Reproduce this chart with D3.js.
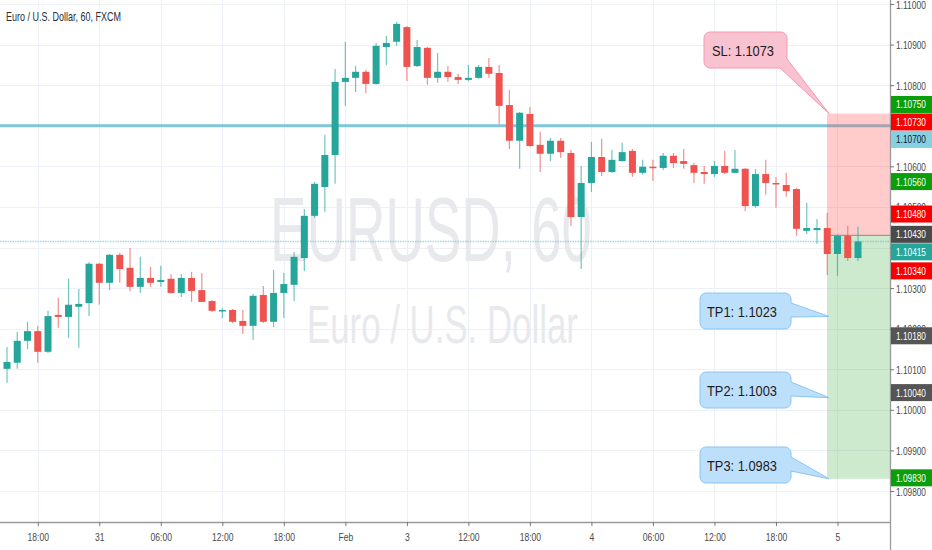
<!DOCTYPE html>
<html><head><meta charset="utf-8">
<script src="https://cdn.jsdelivr.net/npm/d3@7"></script>
<style>
html,body{margin:0;padding:0;background:#fff;}
svg{display:block;}
</style></head><body>
<svg id="chart" width="932" height="550"></svg>
<script>
// ---------- DATA ----------
const opens  = [1.10101,1.10116,1.10170,1.10194,1.10143,1.10234,1.10229,1.10254,1.10263,1.10360,
                1.10313,1.10382,1.10350,1.10303,1.10325,1.10315,1.10323,1.10288,1.10325,1.10295,
                1.10268,1.10244,1.10246,1.10219,1.10207,1.10283,1.10217,1.10288,1.10308,1.10374,
                1.10478,1.10549,1.10628,1.10808,1.10818,1.10833,1.10803,1.10894,1.10907,1.10943,
                1.10847,1.10892,1.10818,1.10833,1.10820,1.10813,1.10818,1.10845,1.10830,1.10751,
                1.10663,1.10729,1.10653,1.10631,1.10663,1.10633,1.10475,1.10559,1.10623,1.10586,
                1.10613,1.10638,1.10584,1.10599,1.10596,1.10626,1.10613,1.10603,1.10586,1.10581,
                1.10601,1.10584,1.10594,1.10502,1.10581,1.10559,1.10554,1.10544,1.10441,1.10443,
                1.10448,1.10384,1.10429,1.10374];
const highs  = [1.10155,1.10192,1.10217,1.10207,1.10244,1.10276,1.10323,1.10298,1.10364,1.10362,
                1.10384,1.10387,1.10399,1.10377,1.10352,1.10355,1.10335,1.10335,1.10340,1.10337,
                1.10271,1.10251,1.10249,1.10246,1.10286,1.10305,1.10345,1.10337,1.10389,1.10495,
                1.10562,1.10677,1.10840,1.10907,1.10847,1.10838,1.10904,1.10921,1.10956,1.10946,
                1.10911,1.10894,1.10879,1.10847,1.10828,1.10850,1.10850,1.10867,1.10850,1.10788,
                1.10734,1.10746,1.10685,1.10670,1.10670,1.10640,1.10601,1.10660,1.10668,1.10640,
                1.10658,1.10643,1.10616,1.10616,1.10633,1.10633,1.10643,1.10608,1.10601,1.10613,
                1.10638,1.10640,1.10596,1.10594,1.10616,1.10574,1.10584,1.10547,1.10510,1.10470,
                1.10485,1.10433,1.10453,1.10451];
const lows   = [1.10066,1.10101,1.10150,1.10116,1.10140,1.10202,1.10177,1.10153,1.10231,1.10259,
                1.10295,1.10313,1.10293,1.10288,1.10303,1.10303,1.10286,1.10278,1.10266,1.10266,
                1.10241,1.10226,1.10214,1.10187,1.10172,1.10214,1.10204,1.10226,1.10268,1.10342,
                1.10473,1.10488,1.10557,1.10749,1.10783,1.10781,1.10801,1.10850,1.10897,1.10810,
                1.10845,1.10801,1.10806,1.10808,1.10803,1.10810,1.10815,1.10818,1.10704,1.10643,
                1.10594,1.10648,1.10586,1.10613,1.10621,1.10453,1.10347,1.10537,1.10576,1.10584,
                1.10611,1.10574,1.10579,1.10564,1.10591,1.10596,1.10594,1.10559,1.10557,1.10574,
                1.10581,1.10584,1.10490,1.10498,1.10530,1.10498,1.10525,1.10429,1.10433,1.10409,
                1.10332,1.10330,1.10367,1.10367];
const closes = [1.10118,1.10170,1.10194,1.10143,1.10231,1.10229,1.10259,1.10261,1.10360,1.10313,
                1.10382,1.10347,1.10303,1.10325,1.10313,1.10320,1.10288,1.10325,1.10293,1.10266,
                1.10244,1.10246,1.10217,1.10207,1.10281,1.10217,1.10288,1.10310,1.10377,1.10478,
                1.10557,1.10628,1.10808,1.10818,1.10833,1.10803,1.10897,1.10904,1.10951,1.10845,
                1.10894,1.10818,1.10833,1.10820,1.10813,1.10818,1.10845,1.10828,1.10749,1.10663,
                1.10732,1.10650,1.10631,1.10663,1.10635,1.10475,1.10559,1.10623,1.10586,1.10616,
                1.10635,1.10584,1.10599,1.10596,1.10626,1.10608,1.10606,1.10584,1.10581,1.10601,
                1.10584,1.10594,1.10502,1.10581,1.10559,1.10557,1.10539,1.10446,1.10448,1.10448,
                1.10384,1.10429,1.10374,1.10415];

const xTickIndex  = [3,9,15,21,27,33,39,45,51,57,63,69,75,81];
const xTickLabels = ["18:00","31","06:00","12:00","18:00","Feb","3","12:00","18:00","4","06:00","12:00","18:00","5"];
const yTicks = [1.098,1.099,1.100,1.101,1.102,1.103,1.104,1.105,1.106,1.107,1.108,1.109,1.110];

const horizontalLine = 1.107;
const lastPrice = 1.10415;
const entryPrice = 1.1043;
const stopPrice = 1.1073;
const targetPrice = 1.0983;

const calloutTexts   = ["SL: 1.1073","TP1: 1.1023","TP2: 1.1003","TP3: 1.0983"];
const calloutAnchors = [1.1073, 1.1023, 1.1003, 1.0983];
const calloutKinds   = ["sl","tp","tp","tp"];

const axisLabelValues = [1.1075,1.1073,1.1070,1.1056,1.1048,1.1043,1.10415,1.1034,1.1018,1.1004,1.0983];
const axisLabelColors = ["#0a9e0a","#f80000","#86d0e3","#0a9e0a","#f80000","#4a4a4a","#26a69a","#f80000","#555555","#555555","#0a9e0a"];
const axisLabelText   = ["#fff","#fff","#131722","#fff","#fff","#fff","#fff","#fff","#fff","#fff","#fff"];

const symbolTitle = "Euro / U.S. Dollar, 60, FXCM";
const watermark1 = "EURUSD, 60";
const watermark2 = "Euro / U.S. Dollar";

// ---------- LAYOUT ----------
const W = 932, H = 550;
const plotRight = 890, plotBottom = 522;
const FONT = "'Liberation Sans',Arial,sans-serif";
const UP = "#26a69a", DOWN = "#ef5350";

const svg = d3.select("#chart");
const idx = d3.range(opens.length);
const x = d3.scalePoint().domain(idx).range([7, 858]);
const y = d3.scaleLinear().domain([1.098, 1.110]).range([491, 4]);

// squeeze a text horizontally to a target width (the reference font is condensed)
function fit(sel, px, py, width) {
  sel.attr("x", 0).attr("y", 0);
  const n = sel.node();
  const L = n.getComputedTextLength();
  const s = L > 0 ? width / L : 1;
  sel.attr("transform", `translate(${px},${py}) scale(${s},1)`);
  return sel;
}

// grid
const grid = svg.append("g");
grid.selectAll("line.h").data(yTicks).join("line")
  .attr("x1", 0).attr("x2", plotRight)
  .attr("y1", d => Math.round(y(d)) + 0.5).attr("y2", d => Math.round(y(d)) + 0.5)
  .attr("stroke", "#edf1f7").attr("stroke-width", 1);
grid.selectAll("line.v").data(xTickIndex).join("line")
  .attr("x1", d => Math.round(x(d)) + 0.5).attr("x2", d => Math.round(x(d)) + 0.5)
  .attr("y1", 0).attr("y2", plotBottom)
  .attr("stroke", "#edf1f7").attr("stroke-width", 1);

// watermark
fit(svg.append("text").text(watermark1).attr("font-family", FONT).attr("font-size", 90)
  .attr("fill", "#e8e9ed"), 270, 261, 322);
fit(svg.append("text").text(watermark2).attr("font-family", FONT).attr("font-size", 54)
  .attr("fill", "#e8e9ed"), 307, 343, 271);

// horizontal line 1.107
svg.append("line")
  .attr("x1", 0).attr("x2", plotRight)
  .attr("y1", y(horizontalLine)).attr("y2", y(horizontalLine))
  .attr("stroke", "#7ec6da").attr("stroke-width", 3);

// position tool
const boxX0 = 827;
svg.append("rect").attr("x", boxX0).attr("width", plotRight - boxX0)
  .attr("y", y(stopPrice)).attr("height", y(entryPrice) - y(stopPrice))
  .attr("fill", "rgba(255,82,82,0.3)");
svg.append("rect").attr("x", boxX0).attr("width", plotRight - boxX0)
  .attr("y", y(entryPrice)).attr("height", y(targetPrice) - y(entryPrice))
  .attr("fill", "rgba(76,175,80,0.28)");
svg.append("line").attr("x1", boxX0).attr("x2", plotRight)
  .attr("y1", y(entryPrice)).attr("y2", y(entryPrice))
  .attr("stroke", "#8a8a8a").attr("stroke-width", 1);

// last price line
svg.append("line")
  .attr("x1", 0).attr("x2", plotRight)
  .attr("y1", y(lastPrice)).attr("y2", y(lastPrice))
  .attr("stroke", "#5fbfd0").attr("stroke-opacity", 0.6)
  .attr("stroke-width", 1.5).attr("stroke-dasharray", "1.5,1");

// candles
const cg = svg.append("g");
const bodyW = 7;
idx.forEach(i => {
  const o = opens[i], c = closes[i], h = highs[i], l = lows[i];
  const col = c >= o ? UP : DOWN;
  const cx = x(i);
  cg.append("line").attr("x1", cx).attr("x2", cx)
    .attr("y1", y(h)).attr("y2", y(l))
    .attr("stroke", col).attr("stroke-opacity", 0.65).attr("stroke-width", 1.2);
  const top = y(Math.max(o, c)), bot = y(Math.min(o, c));
  cg.append("rect").attr("x", cx - bodyW / 2).attr("width", bodyW)
    .attr("y", top).attr("height", Math.max(1.5, bot - top))
    .attr("fill", col);
});

// callouts
const boxTops = [32, 293, 372, 447];
calloutTexts.forEach((t, i) => {
  const kind = calloutKinds[i];
  const fill = kind === "sl" ? "#f9c2d0" : "#bcdffb";
  const stroke = kind === "sl" ? "#f59ab2" : "#8cc4f2";
  const x0 = kind === "sl" ? 704 : 700, x1 = kind === "sl" ? 787 : 791;
  const y0 = boxTops[i], y1 = y0 + 36, r = 6;
  const tipX = 829, tipY = y(calloutAnchors[i]);
  let p;
  if (kind === "sl") {
    p = `M${x0 + r},${y0} H${x1 - r} A${r},${r} 0 0 1 ${x1},${y0 + r} V${y1 - 9} L${tipX},${tipY} L${x1 - 7},${y1} H${x0 + r} A${r},${r} 0 0 1 ${x0},${y1 - r} V${y0 + r} A${r},${r} 0 0 1 ${x0 + r},${y0} Z`;
  } else {
    const bTop = y0 + 10, bBot = y0 + 24;
    p = `M${x0 + r},${y0} H${x1 - r} A${r},${r} 0 0 1 ${x1},${y0 + r} V${bTop} L${tipX},${tipY} L${x1},${bBot} V${y1 - r} A${r},${r} 0 0 1 ${x1 - r},${y1} H${x0 + r} A${r},${r} 0 0 1 ${x0},${y1 - r} V${y0 + r} A${r},${r} 0 0 1 ${x0 + r},${y0} Z`;
  }
  svg.append("path").attr("d", p).attr("fill", fill).attr("stroke", stroke).attr("stroke-width", 1);
  fit(svg.append("text").text(t).attr("font-family", FONT).attr("font-size", 15).attr("fill", "#1c1c1c"),
      kind === "sl" ? 712 : 707, y0 + 23.5, kind === "sl" ? 62 : 70);
});

// title
fit(svg.append("text").text(symbolTitle).attr("font-family", FONT).attr("font-size", 12)
  .attr("fill", "#2a2e39"), 6, 21, 115);

// axes
const ax = svg.append("g");
ax.append("line").attr("x1", plotRight + 0.5).attr("x2", plotRight + 0.5)
  .attr("y1", 0).attr("y2", H).attr("stroke", "#9a9a9a").attr("stroke-width", 1.3);
ax.append("line").attr("x1", 0).attr("x2", plotRight)
  .attr("y1", plotBottom + 0.5).attr("y2", plotBottom + 0.5).attr("stroke", "#9a9a9a").attr("stroke-width", 1.3);

// price labels positions (stacked to avoid overlap)
const LH = 17;
let prevBottom = -Infinity;
const labelPos = axisLabelValues.map(v => {
  let cy = y(v) - 1;
  if (cy - LH / 2 < prevBottom + 0.5) cy = prevBottom + 0.5 + LH / 2;
  prevBottom = cy + LH / 2;
  return cy;
});
// a tick label fully hidden under a price label is not drawn
const hidden = v => labelPos.some(cy => y(v) - 4 >= cy - LH / 2 && y(v) + 4 <= cy + LH / 2);

const yAxis = d3.axisRight(y).tickValues(yTicks).tickSize(4).tickFormat(d3.format(".5f"));
const yg = svg.append("g").attr("transform", `translate(${plotRight},0)`).call(yAxis);
yg.select(".domain").remove();
yg.selectAll(".tick line").attr("stroke", "#777");
yg.selectAll(".tick text").attr("font-family", FONT).attr("font-size", 11).attr("fill", "#4a4a4a")
  .attr("dy", null).attr("display", d => hidden(d) ? "none" : null)
  .each(function () { fit(d3.select(this), 6, 4, 30); });

const xAxis = d3.axisBottom(x).tickValues(xTickIndex).tickSize(4)
  .tickFormat(d => xTickLabels[xTickIndex.indexOf(d)]);
const xg = svg.append("g").attr("transform", `translate(0,${plotBottom})`).call(xAxis);
xg.select(".domain").remove();
xg.selectAll(".tick line").attr("stroke", "#777");
xg.selectAll(".tick text").attr("font-family", FONT).attr("font-size", 11).attr("fill", "#4a4a4a")
  .attr("dy", null)
  .each(function () {
    const s = d3.select(this);
    const L = this.getComputedTextLength();
    s.attr("x", 0).attr("y", 0).attr("transform", `translate(0,19) scale(0.78,1)`);
  });

const lg = svg.append("g");
axisLabelValues.forEach((v, i) => {
  const cy = labelPos[i];
  lg.append("rect").attr("x", plotRight + 1).attr("width", W - plotRight - 1)
    .attr("y", cy - LH / 2).attr("height", LH).attr("fill", axisLabelColors[i]);
  fit(lg.append("text").text(d3.format(".5f")(v))
    .attr("font-family", FONT).attr("font-size", 11).attr("fill", axisLabelText[i]),
    plotRight + 6, cy + 4, 30);
});
</script>
</body></html>
